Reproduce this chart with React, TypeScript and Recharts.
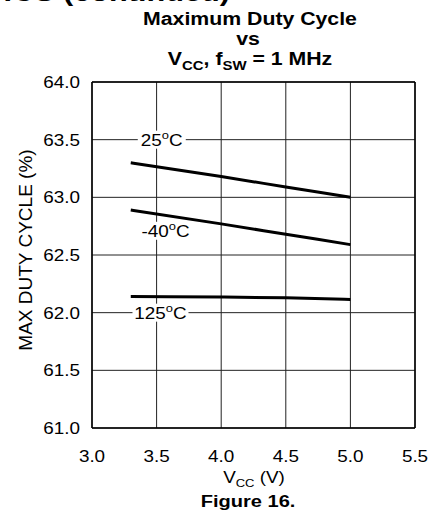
import React from "react";
import {
  CartesianGrid,
  Line,
  LineChart,
  ReferenceDot,
  ReferenceLine,
  XAxis,
  YAxis,
} from "recharts";

// supply voltage sample points (V)
const VCC = [3.3, 4.0, 4.5, 5.0];
// max duty cycle (%) per temperature
const DUTY_25C = [63.3, 63.18, 63.09, 63.0];
const DUTY_M40C = [62.89, 62.77, 62.68, 62.59];
const DUTY_125C = [62.14, 62.135, 62.13, 62.115];

const X_TICKS = [3.0, 3.5, 4.0, 4.5, 5.0, 5.5];
const Y_TICKS = [61.0, 61.5, 62.0, 62.5, 63.0, 63.5, 64.0];

// where the temperature tags sit (data coords)
const TAGS = [
  { name: "25", x: 3.54, y: 63.5, w: 48 },
  { name: "-40", x: 3.57, y: 62.71, w: 50 },
  { name: "125", x: 3.53, y: 62.0, w: 56 },
];

const FONT = "'Liberation Sans', Arial, Helvetica, sans-serif";
const SX = 1.18;

const toRows = (vals: number[]) => VCC.map((v, i) => ({ v, d: vals[i] }));

const SERIES = [
  { key: "25C", data: toRows(DUTY_25C) },
  { key: "-40C", data: toRows(DUTY_M40C) },
  { key: "125C", data: toRows(DUTY_125C) },
];

function XTick({ x, y, payload }: any) {
  return (
    <text
      transform={`translate(${x},${y + 26}) scale(${SX},1)`}
      textAnchor="middle"
      fontSize={16}
      fontFamily={FONT}
      fill="#000"
    >
      {payload.value.toFixed(1)}
    </text>
  );
}

function YTick({ x, y, payload }: any) {
  return (
    <text
      transform={`translate(${x - 4},${y + 6}) scale(${SX},1)`}
      textAnchor="end"
      fontSize={16}
      fontFamily={FONT}
      fill="#000"
    >
      {payload.value.toFixed(1)}
    </text>
  );
}

function tagShape(tag: (typeof TAGS)[number]) {
  return (props: any) => {
    const { cx, cy } = props;
    return (
      <g>
        <rect x={cx - tag.w / 2} y={cy - 9} width={tag.w} height={18} fill="#fff" />
        <text
          transform={`translate(${cx},${cy + 6}) scale(${SX},1)`}
          textAnchor="middle"
          fontSize={16}
          fontFamily={FONT}
          fill="#000"
        >
          {tag.name}
          <tspan fontSize={11} dy={-7}>o</tspan>
          <tspan dy={7}>C</tspan>
        </text>
      </g>
    );
  };
}

export default function App() {
  return (
    <div style={{ position: "absolute", left: 0, top: 0, width: 435, height: 525, background: "#fff" }}>
      <LineChart
        width={435}
        height={525}
        margin={{ top: 82, right: 20, bottom: 0, left: 0 }}
      >
        <CartesianGrid stroke="#222" strokeWidth={1} />
        <XAxis
          type="number"
          dataKey="v"
          domain={[3, 5.5]}
          ticks={X_TICKS}
          height={97}
          tickLine={false}
          axisLine={{ stroke: "#000", strokeWidth: 1.5 }}
          tick={<XTick />}
          allowDataOverflow
        />
        <YAxis
          type="number"
          dataKey="d"
          domain={[61, 64]}
          ticks={Y_TICKS}
          width={92}
          tickLine={false}
          axisLine={{ stroke: "#000", strokeWidth: 1.5 }}
          tick={<YTick />}
          allowDataOverflow
        />
        <ReferenceLine y={64} stroke="#000" strokeWidth={1.5} />
        <ReferenceLine x={5.5} stroke="#000" strokeWidth={1.5} />
        {SERIES.map((s) => (
          <Line
            key={s.key}
            data={s.data}
            dataKey="d"
            type="monotone"
            stroke="#000"
            strokeWidth={3}
            dot={false}
            isAnimationActive={false}
          />
        ))}
        {TAGS.map((t) => (
          <ReferenceDot key={t.name} x={t.x} y={t.y} r={0} shape={tagShape(t)} />
        ))}
      </LineChart>
      <svg
        width={435}
        height={525}
        style={{ position: "absolute", left: 0, top: 0, pointerEvents: "none" }}
        fontFamily={FONT}
      >
        <text
          transform={`translate(230,1) scale(${SX},1)`}
          textAnchor="end"
          fontSize={26}
          fontWeight="bold"
        >
          TYPICAL CHARACTERISTICS (continued)
        </text>
        <g fontWeight="bold" fontSize={18.5}>
          <text transform={`translate(250,25) scale(1.15,1)`} textAnchor="middle">
            Maximum Duty Cycle
          </text>
          <text transform={`translate(248,45) scale(1.15,1)`} textAnchor="middle">
            vs
          </text>
          <text transform={`translate(250,65) scale(1.15,1)`} textAnchor="middle">
            V<tspan fontSize={13} dy={5}>CC</tspan>
            <tspan dy={-5}>, f</tspan>
            <tspan fontSize={13} dy={5}>SW</tspan>
            <tspan dy={-5}> = 1 MHz</tspan>
          </text>
        </g>
        <text transform="translate(32,250) rotate(-90)" textAnchor="middle" fontSize={19}>
          MAX DUTY CYCLE (%)
        </text>
        <text transform={`translate(254,483) scale(${SX},1)`} textAnchor="middle" fontSize={16}>
          V<tspan fontSize={11} dy={4}>CC</tspan>
          <tspan dy={-4}> (V)</tspan>
        </text>
        <text
          transform={`translate(248,507) scale(${SX},1)`}
          textAnchor="middle"
          fontSize={17}
          fontWeight="bold"
        >
          Figure 16.
        </text>
      </svg>
    </div>
  );
}
